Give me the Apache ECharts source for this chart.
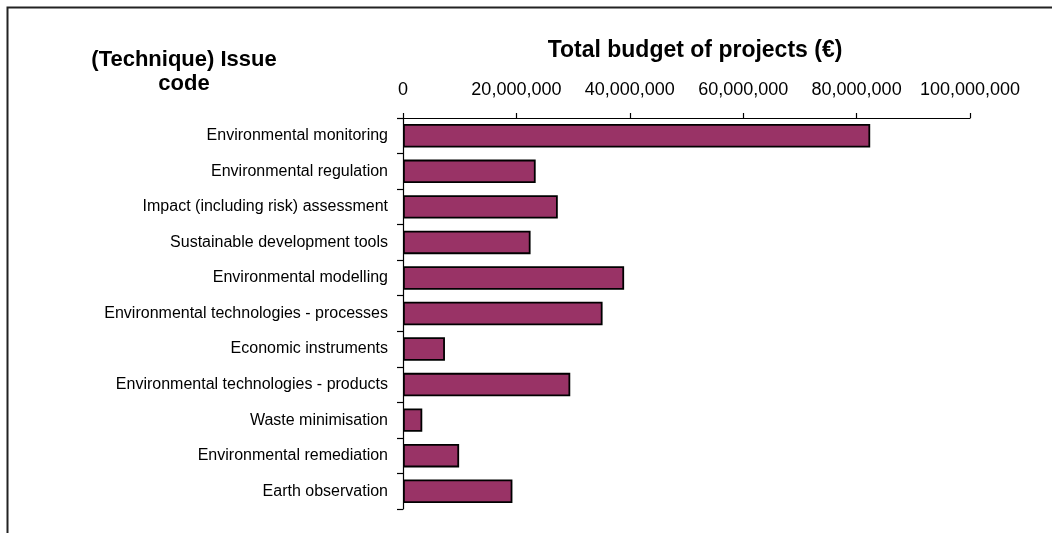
<!DOCTYPE html>
<html>
<head>
<meta charset="utf-8">
<title>Total budget of projects by issue code</title>
<script src="https://cdn.jsdelivr.net/npm/echarts@6/dist/echarts.min.js"></script>
<style>
  html, body { margin: 0; padding: 0; background: #ffffff; }
  #chart { width: 1052px; height: 533px; }
</style>
</head>
<body>
<div id="chart"></div>
<script>
// Issue codes, listed top to bottom
const categories = [
  'Environmental monitoring',
  'Environmental regulation',
  'Impact (including risk) assessment',
  'Sustainable development tools',
  'Environmental modelling',
  'Environmental technologies - processes',
  'Economic instruments',
  'Environmental technologies - products',
  'Waste minimisation',
  'Environmental remediation',
  'Earth observation'
];

// Total budget of projects per issue code (EUR)
const budgets = [
  82400000,
  23400000,
  27300000,
  22500000,
  39000000,
  35200000,
  7400000,
  29500000,
  3400000,
  9900000,
  19300000
];

// Value axis range and step
const axisMin = 0;
const axisMax = 100000000;
const axisStep = 20000000;

const axisTitle = 'Total budget of projects (€)';
const categoryTitle = ['(Technique) Issue', 'code'];

const FONT = '"Liberation Sans", Arial, sans-serif';

const chart = echarts.init(document.getElementById('chart'), null, { renderer: 'canvas' });

const fmt = v => v.toLocaleString('en-US');

chart.setOption({
  backgroundColor: '#ffffff',
  animation: false,
  grid: { left: 403, right: 82, top: 118, bottom: 24, containLabel: false },
  xAxis: {
    type: 'value',
    position: 'top',
    min: axisMin,
    max: axisMax,
    interval: axisStep,
    axisLine: { show: true, lineStyle: { color: '#000', width: 1.2 } },
    axisTick: { show: true, inside: false, length: 5, lineStyle: { color: '#000', width: 1.2 } },
    splitLine: { show: false },
    axisLabel: {
      margin: 19,
      color: '#000',
      fontFamily: FONT,
      fontSize: 18,
      formatter: fmt
    }
  },
  yAxis: {
    type: 'category',
    data: categories,
    inverse: true,
    axisLine: { show: true, lineStyle: { color: '#000', width: 1.2 } },
    axisTick: { show: true, length: 6, alignWithLabel: false, lineStyle: { color: '#000', width: 1.2 } },
    axisLabel: {
      margin: 15,
      color: '#000',
      fontFamily: FONT,
      fontSize: 16
    }
  },
  series: [{
    type: 'bar',
    data: budgets,
    barCategoryGap: '34%',
    itemStyle: {
      color: '#993366',
      borderColor: '#000',
      borderWidth: 1.8
    }
  }],
  graphic: [
    // outer frame (top and left edges)
    {
      type: 'polyline',
      shape: { points: [[7.5, 533], [7.5, 7.5], [1052, 7.5]] },
      style: { stroke: '#222', lineWidth: 2, fill: null },
      silent: true
    },
    {
      type: 'text',
      x: 695,
      y: 51,
      style: {
        text: axisTitle,
        font: 'bold 23px ' + FONT,
        fill: '#000',
        align: 'center',
        verticalAlign: 'middle'
      }
    },
    {
      type: 'text',
      x: 184,
      y: 48,
      style: {
        text: categoryTitle.join('\n'),
        font: 'bold 22px ' + FONT,
        fill: '#000',
        align: 'center',
        verticalAlign: 'top',
        lineHeight: 24
      }
    }
  ]
});
</script>
</body>
</html>
